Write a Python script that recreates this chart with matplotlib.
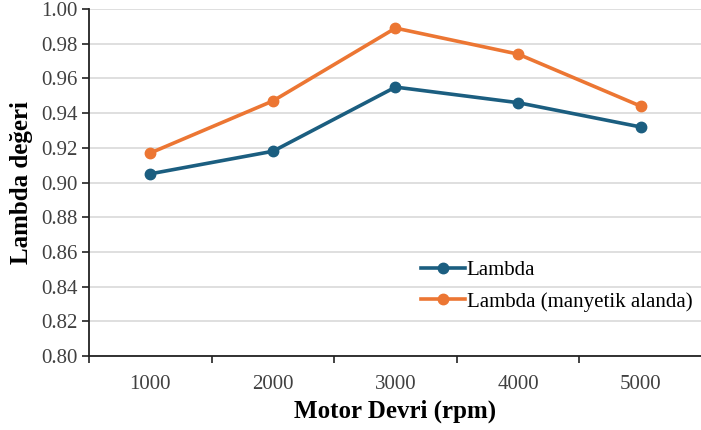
import matplotlib
matplotlib.use("Agg")
import matplotlib.pyplot as plt
import numpy as np

rpm = ["1000", "2000", "3000", "4000", "5000"]
lambda_normal = [0.905, 0.918, 0.955, 0.946, 0.932]
lambda_magnetic = [0.917, 0.947, 0.989, 0.974, 0.944]
y_ticks = [0.80, 0.82, 0.84, 0.86, 0.88, 0.90, 0.92, 0.94, 0.96, 0.98, 1.00]

plt.rcParams["font.family"] = ["Liberation Serif", "DejaVu Serif"]

fig = plt.figure(figsize=(7.01, 4.30), dpi=100)
ax = fig.add_axes([89 / 701, 1 - 356 / 430, 613 / 701, 347 / 430])

x = np.arange(len(rpm))
ax.plot(x, lambda_normal, color="#1b5e80", lw=2.6, marker="o", ms=7.5, label="Lambda")
ax.plot(x, lambda_magnetic, color="#ec7633", lw=2.6, marker="o", ms=7.5,
        label="Lambda (manyetik alanda)")

ax.set_xlim(-0.5, len(rpm) - 0.5)
ax.set_ylim(0.80, 1.00)
ax.set_yticks(y_ticks)
ax.set_yticklabels([f"{v:.2f}" for v in y_ticks])
ax.set_xticks(x)
ax.set_xticklabels(rpm)
ax.set_xticks(np.arange(len(rpm) + 1) - 0.5, minor=True)
ax.tick_params(axis="x", which="major", length=0, pad=14, labelsize=15, colors="#404040")
ax.tick_params(axis="x", which="minor", length=5, width=1.2, color="#222222", direction="out")
ax.tick_params(axis="y", length=5, width=1.2, color="#222222", labelsize=15,
               labelcolor="#404040", pad=3)

ax.grid(axis="y", color="#d9d9d9", lw=1.2)
ax.set_axisbelow(True)
for s in ["top", "right"]:
    ax.spines[s].set_visible(False)
for s in ["left", "bottom"]:
    ax.spines[s].set_color("#222222")
    ax.spines[s].set_linewidth(1.3)

ax.set_xlabel("Motor Devri (rpm)", fontsize=18, fontweight="bold", labelpad=4)
ax.set_ylabel("Lambda değeri", fontsize=18, fontweight="bold", labelpad=6)

ax.legend(loc="lower left", bbox_to_anchor=(0.5416, 0.128), frameon=False, fontsize=15,
          handlelength=2.1, handletextpad=0.1, labelspacing=0.55,
          borderpad=0, borderaxespad=0)

fig.savefig("out.png", dpi=100)
